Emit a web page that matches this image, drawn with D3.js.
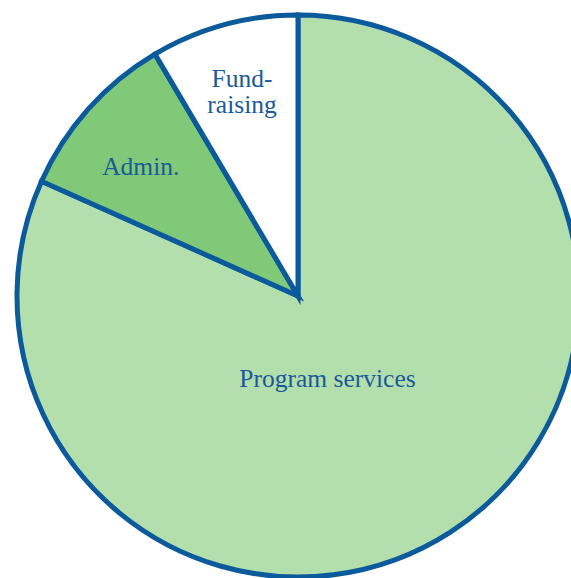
<!DOCTYPE html>
<html>
<head>
<meta charset="utf-8">
<script src="https://cdn.jsdelivr.net/npm/d3@7"></script>
<style>
  html, body { margin: 0; padding: 0; background: #ffffff; }
  svg { display: block; }
</style>
</head>
<body>
<svg id="chart" width="571" height="578"></svg>
<script>
const categories = ["Program services", "Admin.", "Fundraising"];
const values = [81.7, 9.8, 8.5];
const labelLines = [["Program services"], ["Admin."], ["Fund-", "raising"]];
const colors = ["#b3dfad", "#80c978", "#ffffff"];

const svg = d3.select("#chart");
const cx = 298, cy = 296, radius = 281;
const g = svg.append("g").attr("transform", `translate(${cx},${cy})`);

const pie = d3.pie().sort(null).value(d => d.value);
const data = categories.map((c, i) => ({ name: c, value: values[i], lines: labelLines[i], color: colors[i] }));
const arcs = pie(data);

const arc = d3.arc().innerRadius(0).outerRadius(radius);

g.selectAll("path.slice")
  .data(arcs)
  .enter().append("path")
  .attr("class", "slice")
  .attr("d", arc)
  .attr("fill", d => d.data.color)
  .attr("stroke", "#0b5a9c")
  .attr("stroke-width", 5)
  .attr("stroke-linejoin", "miter");

// label placement: radius fraction and angular nudge (radians) per slice
const labelRadius = [0.31, 0.725, 0.755];
const labelNudge = [0.23, -0.04, 0];
const lineHeight = 26;

arcs.forEach((d, i) => {
  const a = (d.startAngle + d.endAngle) / 2 + labelNudge[i];
  const r = radius * labelRadius[i];
  const x = r * Math.sin(a);
  const y = -r * Math.cos(a);
  const n = d.data.lines.length;
  const t = g.append("text")
    .attr("text-anchor", "middle")
    .attr("font-family", "'Liberation Serif', 'DejaVu Serif', serif")
    .attr("font-size", 25.5)
    .attr("fill", "#1a5a9a");
  d.data.lines.forEach((line, j) => {
    t.append("tspan")
      .attr("x", x)
      .attr("y", y + (j - (n - 1) / 2) * lineHeight)
      .attr("dy", "0.35em")
      .text(line);
  });
});
</script>
</body>
</html>
